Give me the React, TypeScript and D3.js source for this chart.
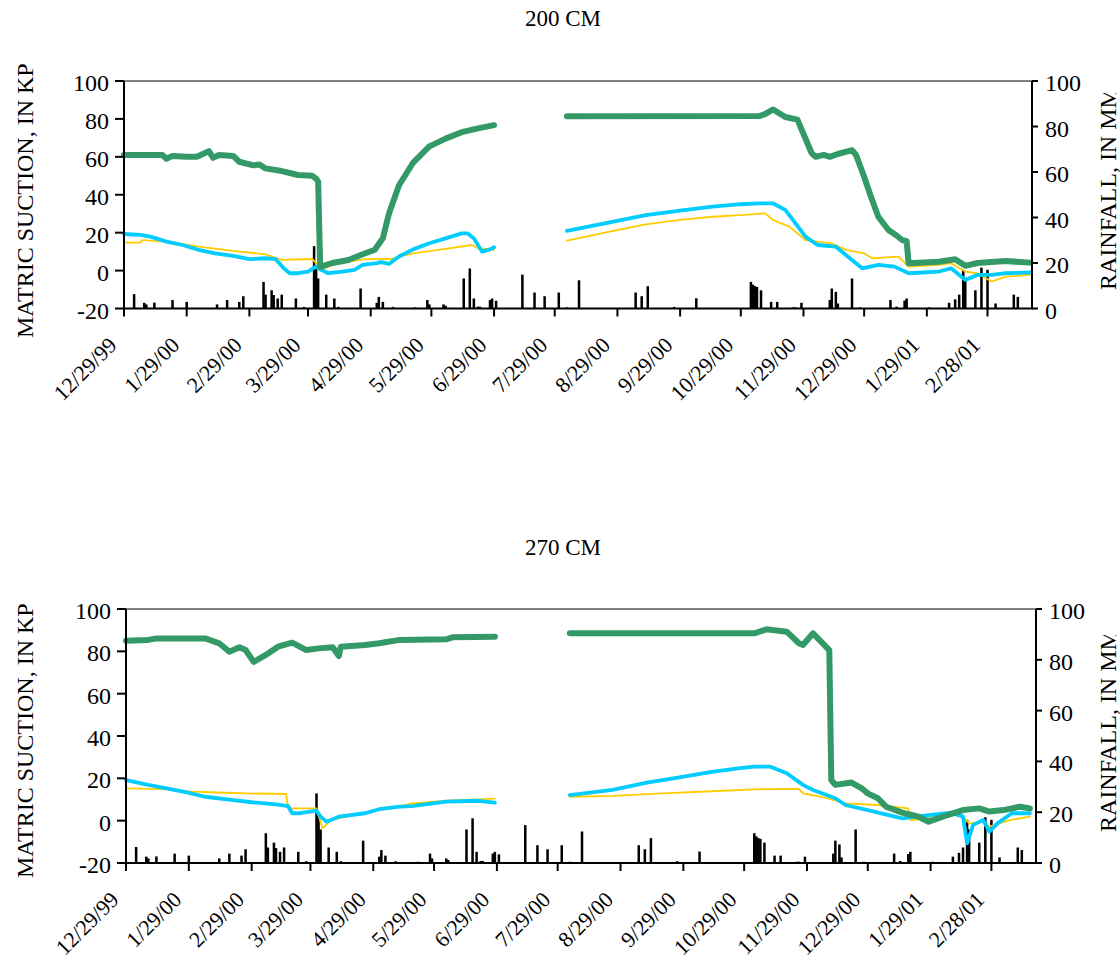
import React from "react";
import * as d3 from "d3";

const tickLabels = ["12/29/99","1/29/00","2/29/00","3/29/00","4/29/00","5/29/00","6/29/00","7/29/00","8/29/00","9/29/00","10/29/00","11/29/00","12/29/00","1/29/01","2/28/01"];
const xDomain = ["12/29/99", "3/22/01"];
const leftTicks = [-20, 0, 20, 40, 60, 80, 100];
const rightTicks = [0, 20, 40, 60, 80, 100];

// Daily rainfall, mm (same gauge for both depths)
const rainDates = ["1/3/00","1/8/00","1/9/00","1/13/00","1/22/00","1/29/00","2/13/00","2/18/00","2/24/00","2/26/00","3/7/00","3/8/00","3/11/00","3/12/00","3/14/00","3/16/00","3/23/00","3/27/00","4/1/00","4/2/00","4/3/00","4/7/00","4/11/00","4/13/00","4/24/00","5/2/00","5/3/00","5/5/00","5/10/00","5/21/00","5/27/00","5/28/00","6/4/00","6/5/00","6/14/00","6/17/00","6/19/00","6/21/00","6/22/00","6/27/00","6/28/00","6/30/00","7/13/00","7/19/00","7/24/00","7/31/00","8/4/00","8/10/00","9/7/00","9/10/00","9/13/00","9/26/00","10/7/00","11/3/00","11/4/00","11/5/00","11/6/00","11/8/00","11/13/00","11/16/00","11/24/00","11/25/00","11/28/00","12/12/00","12/13/00","12/15/00","12/16/00","12/23/00","12/27/00","1/11/01","1/14/01","1/18/01","1/19/01","1/30/01","2/9/01","2/12/01","2/14/01","2/16/01","2/17/01","2/22/01","2/25/01","2/28/01","3/4/01","3/13/01","3/15/01"];
const rainMm = [6.3,2.5,1.8,2.6,3.7,2.9,1.8,3.7,2.9,5.4,11.7,6.1,8,5.9,4.4,6.1,4.4,0.7,27.4,18.3,13.2,6.1,4.4,0.7,8.8,2.5,5.1,2.9,0.7,0.5,3.7,1.8,1.8,1.2,13.2,17.6,4.4,0.8,0.8,3.7,4.4,3.4,14.9,7,5.4,7,0.5,12.4,7,5.4,9.8,0.7,4.5,11.7,10.5,9.8,9.5,8,2.9,2.9,0.5,0.5,2.5,3.7,8.8,7.3,2.2,13.2,0.5,3.7,0.8,3.5,4.4,0.5,2.5,4,6.1,17,13.2,8,18,17,2.2,6.1,5.1];

// 200 CM sensors (matric suction, kPa); null marks the data gap
const top1Dates = ["12/29/99","1/17/00","1/19/00","1/22/00","1/29/00","2/3/00","2/6/00","2/9/00","2/11/00","2/14/00","2/21/00","2/24/00","3/2/00","3/5/00","3/8/00","3/16/00","3/21/00","3/24/00","3/31/00","4/2/00","4/3/00","4/4/00","4/10/00","4/18/00","4/26/00","5/1/00","5/5/00","5/8/00","5/13/00","5/20/00","5/28/00","6/5/00","6/13/00","6/21/00","6/29/00","7/15/00","8/4/00","11/7/00","11/10/00","11/14/00","11/20/00","11/26/00","12/3/00","12/5/00","12/9/00","12/12/00","12/16/00","12/23/00","12/25/00","12/29/00","1/1/01","1/5/01","1/10/01","1/14/01","1/17/01","1/19/01","1/20/01","2/4/01","2/12/01","2/17/01","2/23/01","3/9/01","3/21/01"];
const top1Vals = [61,61,59,60.5,60,60,61.5,63,59.5,61,60.5,57.4,55.5,56,53.9,52.5,51.2,50.4,50,48.5,47,2,4,5.6,9,11,17,30,45,57,65.5,69.6,73,75,76.7,null,81.4,81.5,82.5,85,81,79.6,62,60,61,60,61.5,63.5,61,49.5,40,28.4,21.4,18.5,16,15.5,3.9,4.7,6,2.5,4,5,4.2];

const top2Dates = ["12/29/99","1/6/00","1/11/00","1/19/00","1/27/00","2/4/00","2/12/00","2/21/00","2/29/00","3/8/00","3/13/00","3/17/00","3/20/00","3/24/00","3/29/00","4/2/00","4/4/00","4/8/00","4/15/00","4/21/00","4/25/00","5/2/00","5/4/00","5/8/00","5/13/00","5/20/00","5/28/00","6/5/00","6/13/00","6/16/00","6/19/00","6/23/00","6/27/00","6/29/00","7/15/00","8/4/00","8/27/00","9/12/00","9/29/00","10/15/00","10/29/00","11/7/00","11/14/00","11/20/00","11/30/00","12/6/00","12/15/00","12/20/00","12/28/00","1/5/01","1/13/01","1/20/01","2/4/01","2/10/01","2/17/01","2/23/01","3/2/01","3/9/01","3/21/01"];
const top2Vals = [19.3,18.8,17.9,15.3,13.5,10.9,9.1,7.7,6,6.5,6,1.2,-1.4,-1.4,-0.5,2.1,0.7,-1.4,-0.5,0.4,3,3.9,4.5,3.5,7.4,11.2,14.4,17,19.6,19.6,17,10,11.2,12.3,null,21,25.8,29.3,31.6,33.7,35,35.4,35.4,32,17.9,13.5,12.6,8.2,1.2,3,2.1,-1.4,-0.5,1.2,-4.9,-2.3,-2.3,-1.4,-1];

const top3Dates = ["12/29/99","1/6/00","1/7/00","1/19/00","2/4/00","2/21/00","3/8/00","3/16/00","3/31/00","4/3/00","4/6/00","4/10/00","4/18/00","4/26/00","5/9/00","5/13/00","5/20/00","6/5/00","6/18/00","6/21/00","6/29/00","7/15/00","8/4/00","8/27/00","9/12/00","9/29/00","10/15/00","10/29/00","11/10/00","11/14/00","11/22/00","11/30/00","12/13/00","12/20/00","12/29/00","1/2/01","1/15/01","1/20/01","2/4/01","2/10/01","2/17/01","2/23/01","3/2/01","3/9/01","3/21/01"];
const top3Vals = [14.7,14.7,16.1,15.3,12.6,10.4,8.6,5.6,6.1,3,1.2,3,4.7,6,6.1,7.4,9.1,11.4,13.5,11.8,10.9,null,15.8,21,24.4,26.7,28.4,29.3,30.2,26.7,23.2,16.1,14.4,10.9,9.1,6.5,7.4,2.1,3,3.9,-0.5,-1.4,-5.8,-3.2,-2.3];

// 270 CM sensors
const bot1Dates = ["12/29/99","1/9/00","1/13/00","2/6/00","2/13/00","2/18/00","2/23/00","2/26/00","3/1/00","3/7/00","3/13/00","3/20/00","3/27/00","4/2/00","4/9/00","4/12/00","4/13/00","4/25/00","5/2/00","5/12/00","6/4/00","6/7/00","6/28/00","7/15/00","8/4/00","11/3/00","11/9/00","11/19/00","11/25/00","11/27/00","12/2/00","12/10/00","12/11/00","12/13/00","12/21/00","12/26/00","12/29/00","1/3/01","1/7/01","1/15/01","1/23/01","1/28/01","2/4/01","2/14/01","2/22/01","2/27/01","3/6/01","3/14/01","3/19/01"];
const bot1Vals = [85,85.4,86.1,86.1,83.8,79.8,81.9,80.6,75,78.3,82.2,84.1,80.6,81.4,81.9,77.8,82.2,83,83.8,85.4,85.7,86.6,86.9,null,88.5,88.5,90.4,89.3,83.8,83,88.5,80.6,19.2,16.9,18,15.3,12.9,10.6,6.6,3.8,1.9,-0.5,1.9,5,5.8,4.3,5,6.6,5.8];

const bot2Dates = ["12/29/99","1/9/00","1/18/00","1/28/00","2/6/00","2/19/00","2/29/00","3/12/00","3/18/00","3/20/00","3/23/00","4/1/00","4/3/00","4/6/00","4/12/00","4/25/00","5/2/00","5/12/00","5/18/00","6/4/00","6/20/00","6/28/00","7/15/00","8/4/00","8/25/00","9/11/00","9/27/00","10/13/00","10/26/00","11/3/00","11/11/00","11/19/00","11/27/00","12/2/00","12/13/00","12/18/00","12/29/00","1/15/01","1/25/01","2/8/01","2/14/01","2/16/01","2/19/01","2/24/01","2/27/01","3/3/01","3/10/01","3/19/01"];
const bot2Vals = [19.2,16.9,15.3,13.4,11.3,9.8,8.7,7.7,6.9,3.5,3.5,4.7,1.9,-0.5,1.9,3.5,5.4,6.6,6.9,9,9.4,8.5,null,12.1,14.5,18,20.5,23.1,24.7,25.5,25.5,22.4,16.9,14.5,10.6,7.4,5,1.1,2.2,3.8,1.9,-10.7,-2,0.3,-5.2,-1.3,3.5,3.5];

const bot3Dates = ["12/29/99","1/21/00","1/24/00","2/16/00","2/26/00","3/17/00","3/18/00","4/1/00","4/4/00","4/8/00","4/25/00","5/2/00","5/12/00","5/18/00","6/4/00","6/20/00","6/28/00","7/15/00","8/4/00","8/25/00","9/19/00","10/13/00","11/3/00","11/25/00","11/27/00","12/6/00","12/18/00","1/3/01","1/18/01","1/19/01","1/25/01","2/10/01","2/14/01","2/17/01","2/24/01","2/27/01","3/9/01","3/19/01"];
const bot3Vals = [15.3,14.8,14,13.2,12.9,12.6,5.8,5.8,-3.6,0.3,3.8,5.8,6.6,8.2,9.4,10.1,10.4,null,11.3,11.7,12.9,13.9,14.8,15,12.9,11.3,8.2,7.4,5.8,0.3,0.6,3.8,1.9,-1.3,-0.5,-2.8,0.3,1.9];

const FONT = "'Liberation Serif', 'Times New Roman', serif";
const parse = d3.utcParse("%m/%d/%y");

type Frame = { left: number; right: number; top: number; bottom: number };
type Series = { dates: string[]; vals: (number | null)[]; color: string; width: number };

function Panel({ id, f, title, titleY, series, leftLabelY, rightLabelY, rightClipY }: {
  id: string; f: Frame; title: string; titleY: number; series: Series[];
  leftLabelY: number; rightLabelY: number; rightClipY: number;
}) {
  const x = d3.scaleUtc().domain(xDomain.map((s) => parse(s) as Date)).range([f.left, f.right]);
  const yL = d3.scaleLinear().domain([-20, 100]).range([f.bottom, f.top]);
  const yR = d3.scaleLinear().domain([0, 100]).range([f.bottom, f.top]);
  const dayW = x(parse("1/2/00") as Date) - x(parse("1/1/00") as Date);
  const barW = dayW + 0.5;

  const line = d3
    .line<[Date, number | null]>()
    .defined((d) => d[1] !== null)
    .x((d) => x(d[0]))
    .y((d) => yL(d[1] as number));

  return (
    <g>
      <text x={563} y={titleY} textAnchor="middle" fontSize={23} fontFamily={FONT}>{title}</text>
      <line x1={f.left} x2={f.right} y1={f.top} y2={f.top} stroke="#808080" strokeWidth={2} />
      {rainDates.map((d, i) => {
        const cx = x(parse(d) as Date);
        const yTop = yR(rainMm[i]);
        return <rect key={"r" + i} x={cx - barW / 2} y={yTop} width={barW} height={f.bottom - yTop} fill="#000" />;
      })}
      {series.map((s, k) => {
        const pts: [Date, number | null][] = s.dates.map((d, i) => [parse(d) as Date, s.vals[i]]);
        return (
          <path key={"s" + k} d={line(pts) || ""} fill="none" stroke={s.color} strokeWidth={s.width}
            strokeLinejoin="round" strokeLinecap="round" />
        );
      })}
      <line x1={f.left} x2={f.left} y1={f.top} y2={f.bottom} stroke="#000" strokeWidth={2} />
      <line x1={f.right} x2={f.right} y1={f.top} y2={f.bottom} stroke="#000" strokeWidth={2} />
      <line x1={f.left - 1} x2={f.right + 1} y1={f.bottom} y2={f.bottom} stroke="#000" strokeWidth={2} />
      {leftTicks.map((t) => (
        <g key={"l" + t}>
          <line x1={f.left - 9} x2={f.left} y1={yL(t)} y2={yL(t)} stroke="#000" strokeWidth={2} />
          <text x={f.left - 15} y={yL(t)} dy="0.42em" textAnchor="end" fontSize={24} fontFamily={FONT}>{t}</text>
        </g>
      ))}
      {rightTicks.map((t) => (
        <g key={"rt" + t}>
          <line x1={f.right} x2={f.right + 6} y1={yR(t)} y2={yR(t)} stroke="#000" strokeWidth={2} />
          <text x={f.right + 13} y={yR(t)} dy="0.42em" textAnchor="start" fontSize={24} fontFamily={FONT}>{t}</text>
        </g>
      ))}
      {tickLabels.map((t) => {
        const tx = x(parse(t) as Date);
        return (
          <g key={"x" + t}>
            <line x1={tx} x2={tx} y1={f.bottom} y2={f.bottom + 8} stroke="#000" strokeWidth={2} />
            <text transform={`translate(${tx - 6},${f.bottom + 38}) rotate(-45)`} textAnchor="end"
              fontSize={22} fontFamily={FONT}>{t}</text>
          </g>
        );
      })}
      <text transform={`translate(33,${leftLabelY}) rotate(-90)`} textAnchor="start" fontSize={24} fontFamily={FONT}>
        MATRIC SUCTION, IN KP
      </text>
      <clipPath id={id + "-rc"}>
        <rect x={1060} y={rightClipY} width={80} height={400} />
      </clipPath>
      <g clipPath={`url(#${id}-rc)`}>
        <text transform={`translate(1116,${rightLabelY}) rotate(-90)`} textAnchor="start" fontSize={24} fontFamily={FONT}>
          RAINFALL, IN MM
        </text>
      </g>
    </g>
  );
}

export default function App() {
  const topFrame: Frame = { left: 124, right: 1032, top: 81, bottom: 308.5 };
  const botFrame: Frame = { left: 126, right: 1036, top: 609, bottom: 863 };
  const topSeries: Series[] = [
    { dates: top3Dates, vals: top3Vals, color: "#FFCC00", width: 1.8 },
    { dates: top2Dates, vals: top2Vals, color: "#00CCFF", width: 3.8 },
    { dates: top1Dates, vals: top1Vals, color: "#339966", width: 6 },
  ];
  const botSeries: Series[] = [
    { dates: bot3Dates, vals: bot3Vals, color: "#FFCC00", width: 1.8 },
    { dates: bot2Dates, vals: bot2Vals, color: "#00CCFF", width: 3.8 },
    { dates: bot1Dates, vals: bot1Vals, color: "#339966", width: 6 },
  ];
  return (
    <svg width={1120} height={959} style={{ position: "absolute", left: 0, top: 0, background: "#fff" }}>
      <rect x={0} y={0} width={1120} height={959} fill="#fff" />
      <Panel id="p200" f={topFrame} title="200 CM" titleY={26} series={topSeries}
        leftLabelY={338} rightLabelY={290} rightClipY={93} />
      <Panel id="p270" f={botFrame} title="270 CM" titleY={555} series={botSeries}
        leftLabelY={878} rightLabelY={832} rightClipY={635} />
    </svg>
  );
}
